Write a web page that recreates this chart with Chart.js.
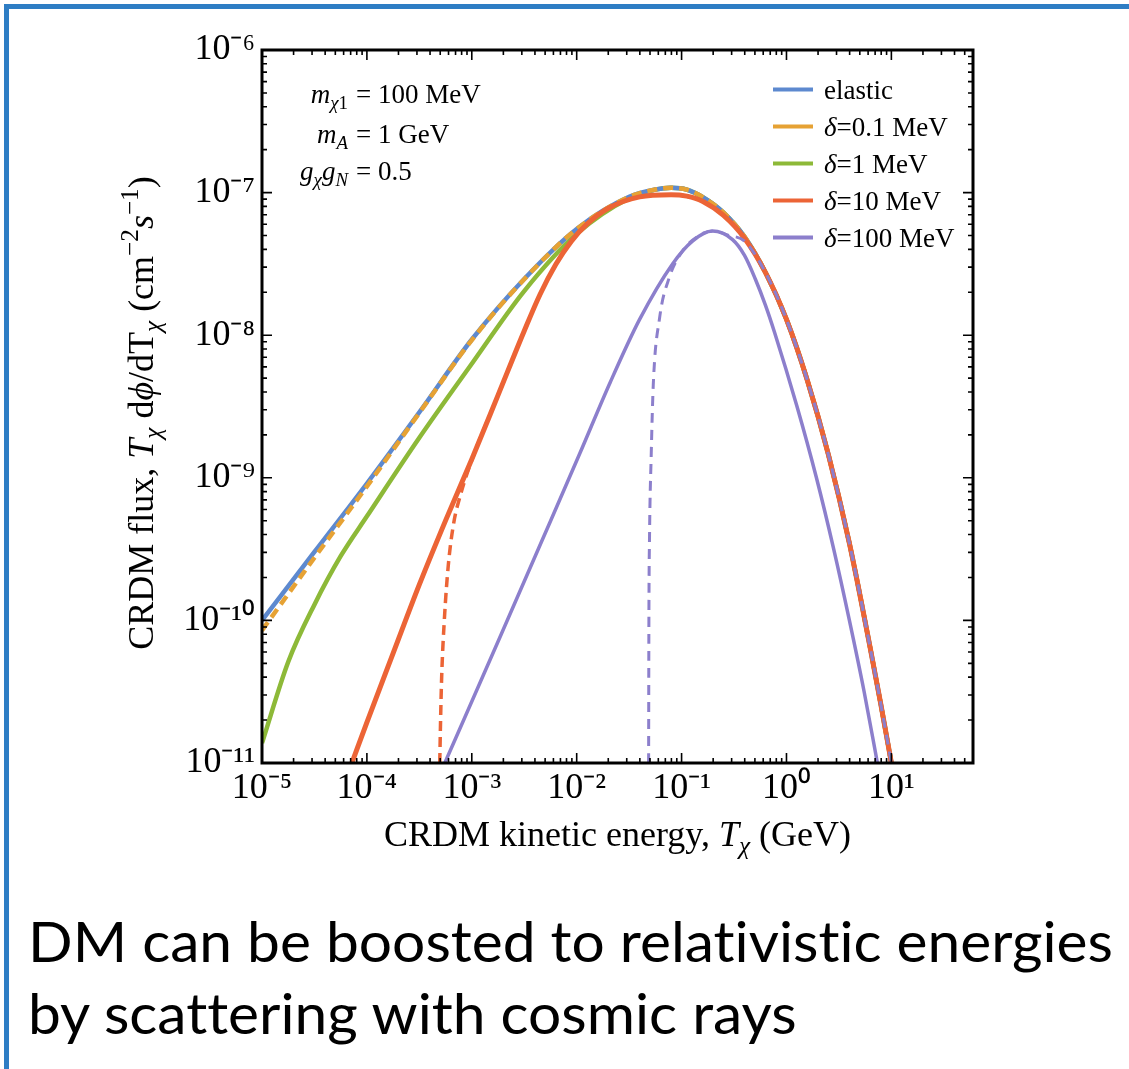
<!DOCTYPE html>
<html><head><meta charset="utf-8">
<script src="https://cdn.jsdelivr.net/npm/chart.js@4.4.1/dist/chart.umd.min.js"></script>
<style>
html,body{margin:0;padding:0;background:#fff;width:1129px;height:1069px;overflow:hidden;position:relative;}
#frame{position:absolute;left:4px;top:4px;width:1300px;height:1300px;border-left:5px solid #2E7DC4;border-top:5px solid #2E7DC4;}
#c{position:absolute;left:0;top:0;}
.cap{position:absolute;left:28px;font-family:Lato,"Open Sans",sans-serif;font-size:57px;line-height:1.2;white-space:nowrap;transform-origin:0 0;color:#000;font-variant-ligatures:none;font-feature-settings:"liga" 0;}
</style></head><body>
<div id="frame"></div>
<canvas id="c" width="1129" height="1069"></canvas>
<div class="cap" id="cap1" style="top:906px">DM can be boosted to relativistic energies</div>
<div class="cap" id="cap2" style="top:978px">by scattering with cosmic rays</div>
<script>
// ---------- data ----------
const xTickValues = [1e-5, 1e-4, 1e-3, 1e-2, 1e-1, 1, 10];
const xTickLabels = ['10⁻⁵', '10⁻⁴', '10⁻³', '10⁻²', '10⁻¹', '10⁰', '10¹'];
const yTickValues = [1e-11, 1e-10, 1e-9, 1e-8, 1e-7, 1e-6];
const yTickLabels = ['10⁻¹¹', '10⁻¹⁰', '10⁻⁹', '10⁻⁸', '10⁻⁷', '10⁻⁶'];

// elastic (blue)
const elasticT    = [1.00e-5, 3.16e-5, 1.00e-4, 3.16e-4, 1.00e-3, 3.16e-3, 1.00e-2, 3.16e-2, 5.62e-2, 7.94e-2, 0.112, 0.158, 0.251, 0.398, 0.631, 1.00, 1.585, 2.512, 3.981, 6.31, 7.94, 10.0];
const elasticFlux = [1.00e-10, 3.02e-10, 9.12e-10, 2.88e-9, 9.33e-9, 2.48e-8, 5.56e-8, 9.33e-8, 1.05e-7, 1.08e-7, 1.05e-7, 9.33e-8, 7.24e-8, 4.90e-8, 2.75e-8, 1.29e-8, 4.79e-9, 1.45e-9, 3.47e-10, 6.31e-11, 2.57e-11, 1.00e-11];

// delta = 0.1 MeV (orange)
const d01T    = [1.00e-5, 3.16e-5, 1.00e-4, 3.16e-4, 1.00e-3, 3.16e-3, 1.00e-2, 3.16e-2, 5.62e-2, 7.94e-2, 0.112, 0.158, 0.251, 0.398, 0.631, 1.00, 1.585, 2.512, 3.981, 6.31, 7.94, 10.0];
const d01Flux = [8.51e-11, 2.75e-10, 8.71e-10, 2.85e-9, 9.25e-9, 2.47e-8, 5.55e-8, 9.33e-8, 1.05e-7, 1.08e-7, 1.05e-7, 9.33e-8, 7.24e-8, 4.90e-8, 2.75e-8, 1.29e-8, 4.79e-9, 1.45e-9, 3.47e-10, 6.31e-11, 2.57e-11, 1.00e-11];

// delta = 1 MeV (green)
const d1T    = [1.00e-5, 1.78e-5, 3.16e-5, 5.62e-5, 1.00e-4, 3.16e-4, 1.00e-3, 3.16e-3, 1.00e-2, 3.16e-2, 5.62e-2, 7.94e-2, 0.112, 0.158, 0.251, 0.398, 0.631, 1.00, 1.585, 2.512, 3.981, 6.31, 7.94, 10.0];
const d1Flux = [1.38e-11, 5.13e-11, 1.29e-10, 2.82e-10, 5.37e-10, 1.91e-9, 6.31e-9, 2.04e-8, 5.13e-8, 9.12e-8, 1.05e-7, 1.08e-7, 1.05e-7, 9.33e-8, 7.24e-8, 4.90e-8, 2.75e-8, 1.29e-8, 4.79e-9, 1.45e-9, 3.47e-10, 6.31e-11, 2.57e-11, 1.00e-11];

// delta = 10 MeV (red, solid)
const d10T    = [7.19e-5, 1.00e-4, 1.78e-4, 3.16e-4, 5.62e-4, 1.00e-3, 1.78e-3, 3.16e-3, 4.47e-3, 6.31e-3, 8.91e-3, 1.26e-2, 2.00e-2, 3.98e-2, 7.94e-2, 0.112, 0.158, 0.251, 0.398, 0.631, 1.00, 1.585, 2.512, 3.981, 6.31, 7.94, 10.0];
const d10Flux = [1.00e-11, 1.93e-11, 5.89e-11, 1.78e-10, 5.01e-10, 1.35e-9, 3.80e-9, 1.07e-8, 1.93e-8, 3.13e-8, 4.57e-8, 6.03e-8, 7.76e-8, 9.33e-8, 9.66e-8, 9.44e-8, 8.71e-8, 6.92e-8, 4.79e-8, 2.75e-8, 1.29e-8, 4.79e-9, 1.45e-9, 3.47e-10, 6.31e-11, 2.57e-11, 1.00e-11];

// delta = 10 MeV (red, dashed)
const d10DashT    = [4.95e-4, 5.04e-4, 5.16e-4, 5.47e-4, 5.96e-4, 6.68e-4, 7.94e-4, 1.00e-3, 1.78e-3, 3.16e-3, 4.47e-3, 6.31e-3, 8.91e-3, 1.26e-2, 2.00e-2, 3.98e-2, 7.94e-2, 0.112, 0.158, 0.251, 0.398, 0.631, 1.00, 1.585, 2.512, 3.981, 6.31, 7.94, 10.0];
const d10DashFlux = [1.00e-11, 2.00e-11, 3.98e-11, 1.00e-10, 2.40e-10, 4.68e-10, 7.94e-10, 1.33e-9, 3.80e-9, 1.07e-8, 1.93e-8, 3.13e-8, 4.57e-8, 6.03e-8, 7.76e-8, 9.33e-8, 9.66e-8, 9.44e-8, 8.71e-8, 6.92e-8, 4.79e-8, 2.75e-8, 1.29e-8, 4.79e-9, 1.45e-9, 3.47e-10, 6.31e-11, 2.57e-11, 1.00e-11];

// delta = 100 MeV (purple, solid)
const d100T    = [5.53e-4, 1.85e-3, 4.74e-3, 1.07e-2, 2.09e-2, 3.98e-2, 8.20e-2, 0.127, 0.197, 0.306, 0.398, 0.501, 0.631, 0.769, 1.26, 1.93, 2.82, 3.98, 5.50, 7.36];
const d100Flux = [1.00e-11, 7.59e-11, 3.72e-10, 1.48e-9, 4.68e-9, 1.29e-8, 3.16e-8, 4.57e-8, 5.37e-8, 4.68e-8, 3.63e-8, 2.51e-8, 1.62e-8, 1.05e-8, 3.16e-9, 1.00e-9, 3.16e-10, 1.00e-10, 3.16e-11, 1.00e-11];

// delta = 100 MeV (purple, dashed)
const d100DashT    = [4.85e-2, 4.88e-2, 4.95e-2, 5.13e-2, 5.37e-2, 6.17e-2, 7.59e-2, 0.102, 0.148, 0.200, 0.282, 0.398, 0.631, 1.00, 1.585, 2.512, 3.981, 6.31, 7.94, 10.0];
const d100DashFlux = [1.00e-11, 1.00e-10, 3.98e-10, 1.41e-9, 4.47e-9, 1.32e-8, 2.51e-8, 3.89e-8, 5.01e-8, 5.37e-8, 5.01e-8, 4.57e-8, 2.75e-8, 1.29e-8, 4.79e-9, 1.45e-9, 3.47e-10, 6.31e-11, 2.57e-11, 1.00e-11];

const legendLabels = [
  [{t:'elastic'}],
  [{t:'δ', it:true}, {t:'=0.1 MeV'}],
  [{t:'δ', it:true}, {t:'=1 MeV'}],
  [{t:'δ', it:true}, {t:'=10 MeV'}],
  [{t:'δ', it:true}, {t:'=100 MeV'}]
];
const noteLeft = [
  [{t:'m', it:true}, {t:'χ', it:true, sub:true}, {t:'1', sub:true}],
  [{t:'m', it:true}, {t:'A', it:true, sub:true}],
  [{t:'g', it:true}, {t:'χ', it:true, sub:true}, {t:'g', it:true}, {t:'N', it:true, sub:true}]
];
const noteRight = ['= 100 MeV', '= 1 GeV', '= 0.5'];
const xTitle = [{t:'CRDM kinetic energy, '}, {t:'T', it:true}, {t:'χ', it:true, sub:true}, {t:' (GeV)'}];
const yTitle = [{t:'CRDM flux, '}, {t:'T', it:true}, {t:'χ', it:true, sub:true}, {t:' d'}, {t:'ϕ', it:true}, {t:'/dT'}, {t:'χ', it:true, sub:true}, {t:' (cm'}, {t:'−2', sup:true}, {t:'s', it:true}, {t:'−1', sup:true}, {t:')'}];

// ---------- styles ----------
const BLUE = '#5D89CF', ORANGE = '#E6A234', GREEN = '#8DB938', RED = '#EC6436', PURPLE = '#8C7FCC';
const SERIF = '"Liberation Serif", "Times New Roman", serif';
const legendColors = [BLUE, ORANGE, GREEN, RED, PURPLE];

const pts = (xs, ys) => xs.map((x, i) => ({x, y: ys[i]}));
const base = {pointRadius: 0, cubicInterpolationMode: 'monotone', fill: false, borderCapStyle: 'butt', borderJoinStyle: 'round'};

function drawRich(ctx, segs, x, y, size, align) {
  let w = 0;
  const items = segs.map(s => {
    const fs = (s.sub || s.sup) ? size * 0.7 : size;
    const font = (s.it ? 'italic ' : '') + fs + 'px ' + SERIF;
    ctx.font = font;
    const ww = ctx.measureText(s.t).width;
    w += ww;
    return {s, font, ww, dy: s.sub ? size * 0.22 : (s.sup ? -size * 0.42 : 0)};
  });
  let cx = align === 'right' ? x - w : (align === 'center' ? x - w / 2 : x);
  ctx.textAlign = 'left';
  ctx.textBaseline = 'alphabetic';
  items.forEach(it => { ctx.font = it.font; ctx.fillText(it.s.t, cx, y + it.dy); cx += it.ww; });
}

const decor = {
  id: 'decor',
  afterDatasetsDraw(chart) {
    const {ctx, chartArea: a, scales: {x, y}} = chart;
    ctx.save();
    ctx.strokeStyle = '#000';
    ctx.lineWidth = 1.6;
    ctx.beginPath();
    for (let d = -5; d <= 1; d++) for (let m = 1; m <= 9; m++) {
      const v = m * Math.pow(10, d);
      if (v < x.min || v > x.max) continue;
      const px = x.getPixelForValue(v);
      const len = m === 1 ? 10 : 5;
      ctx.moveTo(px, a.bottom); ctx.lineTo(px, a.bottom - len);
      ctx.moveTo(px, a.top); ctx.lineTo(px, a.top + len);
    }
    for (let d = -11; d <= -6; d++) for (let m = 1; m <= 9; m++) {
      const v = m * Math.pow(10, d);
      if (v < y.min * 0.999 || v > y.max * 1.001) continue;
      const py = y.getPixelForValue(v);
      const len = m === 1 ? 10 : 5;
      ctx.moveTo(a.left, py); ctx.lineTo(a.left + len, py);
      ctx.moveTo(a.right, py); ctx.lineTo(a.right - len, py);
    }
    ctx.stroke();
    ctx.lineWidth = 3;
    ctx.strokeRect(a.left, a.top, a.right - a.left, a.bottom - a.top);

    ctx.fillStyle = '#000';
    // legend
    legendLabels.forEach((segs, i) => {
      const ry = a.top + 39.5 + 37 * i;
      ctx.strokeStyle = legendColors[i];
      ctx.lineWidth = 4;
      ctx.beginPath(); ctx.moveTo(a.right - 200, ry); ctx.lineTo(a.right - 160, ry); ctx.stroke();
      drawRich(ctx, segs, a.right - 149, ry + 9, 27, 'left');
    });
    // parameter notes
    const eqX = a.left + 94;
    const noteBase = [103, 143, 180];
    noteLeft.forEach((segs, i) => {
      drawRich(ctx, segs, eqX - 8, noteBase[i], 27, 'right');
      drawRich(ctx, [{t: noteRight[i]}], eqX, noteBase[i], 27, 'left');
    });
    // axis titles
    drawRich(ctx, xTitle, (a.left + a.right) / 2, 846, 36, 'center');
    ctx.translate(153, 413);
    ctx.rotate(-Math.PI / 2);
    drawRich(ctx, yTitle, 0, 0, 36, 'center');
    ctx.restore();
  }
};

new Chart(document.getElementById('c'), {
  type: 'line',
  data: {
    datasets: [
      {...base, label: 'δ=1 MeV', data: pts(d1T, d1Flux), borderColor: GREEN, borderWidth: 4.5, order: 7},
      {...base, label: 'elastic', data: pts(elasticT, elasticFlux), borderColor: BLUE, borderWidth: 4.5, order: 6},
      {...base, label: 'δ=0.1 MeV', data: pts(d01T, d01Flux), borderColor: ORANGE, borderWidth: 4.5, borderDash: [10, 6], order: 5},
      {...base, label: 'δ=10 MeV', data: pts(d10T, d10Flux), borderColor: RED, borderWidth: 5, order: 4},
      {...base, label: 'δ=10 MeV (dashed)', data: pts(d10DashT, d10DashFlux), borderColor: RED, borderWidth: 3.5, borderDash: [10, 6], order: 3},
      {...base, label: 'δ=100 MeV', data: pts(d100T, d100Flux), borderColor: PURPLE, borderWidth: 3.5, order: 2},
      {...base, label: 'δ=100 MeV (dashed)', data: pts(d100DashT, d100DashFlux), borderColor: PURPLE, borderWidth: 3, borderDash: [10, 7], order: 1}
    ]
  },
  options: {
    responsive: false,
    animation: false,
    devicePixelRatio: 1,
    layout: {padding: {left: 142, right: 156, top: 50, bottom: 216}},
    plugins: {legend: {display: false}, tooltip: {enabled: false}},
    scales: {
      x: {
        type: 'logarithmic', min: 1e-5, max: 60, position: 'bottom',
        grid: {display: false, drawTicks: false}, border: {display: false},
        afterBuildTicks: s => { s.ticks = xTickValues.map(v => ({value: v})); },
        afterFit: s => { s.height = 90; },
        ticks: {autoSkip: false, maxRotation: 0, padding: 4, color: '#000',
          font: {family: SERIF, size: 36}, callback: (v, i) => xTickLabels[i]}
      },
      y: {
        type: 'logarithmic', min: 1e-11, max: 1e-6, position: 'left',
        grid: {display: false, drawTicks: false}, border: {display: false},
        afterBuildTicks: s => { s.ticks = yTickValues.map(v => ({value: v})); },
        afterFit: s => { s.width = 120; },
        ticks: {autoSkip: false, padding: 7, color: '#000',
          font: {family: SERIF, size: 36}, callback: (v, i) => yTickLabels[i]}
      }
    }
  },
  plugins: [decor]
});

// fit caption width like the reference
const c1 = document.getElementById('cap1'), c2 = document.getElementById('cap2');
const k = 1085 / c1.getBoundingClientRect().width;
c1.style.transform = c2.style.transform = 'scaleX(' + k + ')';
</script>
</body></html>
